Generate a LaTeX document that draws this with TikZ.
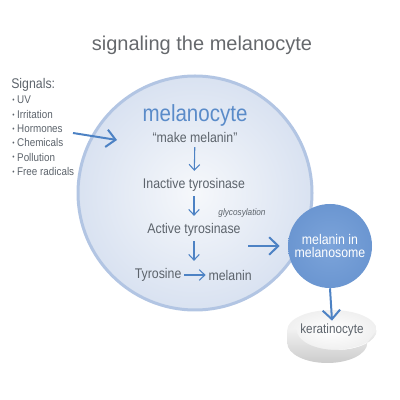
\documentclass[tikz,border=0pt]{standalone}
\usepackage{fontspec}
\setmainfont{Liberation Sans}
\newfontfamily\narrowsf[FakeStretch=0.88]{Liberation Sans}
\usetikzlibrary{arrows.meta,positioning,shapes.geometric,calc}
\definecolor{titlegray}{HTML}{65686C}
\definecolor{cellink}{HTML}{5C636B}
\definecolor{cellblue}{HTML}{5A8BC9}
\definecolor{signalblue}{HTML}{4D82C4}
\definecolor{cellrim}{HTML}{B2C5E3}
\definecolor{cellfill}{HTML}{D9E2F1}
\definecolor{cellcore}{HTML}{F6F8FB}
\definecolor{mesoblue}{HTML}{6B96D1}
\definecolor{mesocore}{HTML}{7CA4DA}

\begin{document}
\begin{tikzpicture}[x=.75pt,y=.75pt,
 ar/.style={-{Straight Barb[length=2.4mm,width=4.6mm]},line width=1.5pt,signalblue},
 sar/.style={-{Straight Barb[length=1.5mm,width=2.8mm]},line width=.8pt,signalblue,
  shorten <=2.5pt,shorten >=4.5pt},
 txt/.style={font=\narrowsf\fontsize{10.5}{12}\selectfont,text=cellink,inner sep=1pt},
 item/.style={font=\narrowsf\fontsize{8.4}{10}\selectfont,text=cellink,inner sep=0pt}]
\useasboundingbox (0,0) rectangle (400,400);
\node[font=\fontsize{15}{18}\selectfont,text=titlegray] (title) at (202,355) {signaling the melanocyte};
% the cell
\node[circle,minimum size=175.5pt,draw=cellrim,line width=2.25pt,
 shading=radial,inner color=cellcore,outer color=cellfill] (cell) at (195,207) {};
% signals
\node[anchor=west,font=\narrowsf\fontsize{10.5}{12}\selectfont,text=cellink,inner sep=0pt] (sig) at (11,315) {Signals:};
\foreach \t [count=\i] in {UV,Irritation,Hormones,Chemicals,Pollution,Free radicals}
 \node[anchor=west,item] (sig\i) at (12,314-\i*14.2) {\raisebox{.8pt}{\fontsize{5.5}{5}\selectfont\textbullet}\hspace{2pt}\t};
\coordinate (sigtail) at (73,267);
\coordinate (sigtip) at (117,260);
\draw[ar] (sigtail) -- (sigtip);
% inside the cell
\node[font=\narrowsf\fontsize{17.5}{20}\selectfont,text=cellblue] (mcyte) at (195,285) {melanocyte};
\node[txt] (make) at (195,263) {“make melanin”};
\node[txt] (inact) at (194,215) {Inactive tyrosinase};
\node[txt] (act) at (194,170) {Active tyrosinase};
\node[txt,anchor=east] (tyr) at (183,125) {Tyrosine};
\node[txt,anchor=west] (mel) at (207,125) {melanin};
\node[font=\narrowsf\itshape\fontsize{7}{8}\selectfont,text=cellink] (glyc) at (242,187) {glycosylation};
\draw[sar] (make) -- (inact);
\draw[sar] (inact) -- (act);
\draw[sar] (act) -- (tyr.north -| act.south);
\draw[sar,shorten <=1pt,shorten >=1pt] (tyr) -- (mel);
% melanosome and keratinocyte
\node[circle,minimum size=63pt,inner sep=0pt,shading=radial,inner color=mesocore,outer color=mesoblue,
 text=white,align=center,font=\narrowsf\fontsize{10.5}{10}\selectfont] (meso) at (330,154) {melanin in\\melanosome};
\coordinate (cellout) at (248,154);
\draw[ar,shorten >=6pt] (cellout) -- (meso);
\node[ellipse,minimum width=60pt,minimum height=30pt,outer sep=0pt,inner sep=0pt,
 shading=radial,inner color=white,outer color=black!6,
 text=cellink,font=\narrowsf\fontsize{10}{12}\selectfont] (kerat) at (332,70) {keratinocyte};
\shade[top color=black!6,bottom color=black!20] (kerat.west) -- ++(0,-13)
 arc[start angle=180,end angle=360,x radius=30pt,y radius=15pt] -- (kerat.east)
 arc[start angle=0,end angle=-180,x radius=30pt,y radius=15pt] -- cycle;
\draw[ar] (meso.south) -- ([yshift=-8pt]kerat.north);
\end{tikzpicture}
\end{document}
